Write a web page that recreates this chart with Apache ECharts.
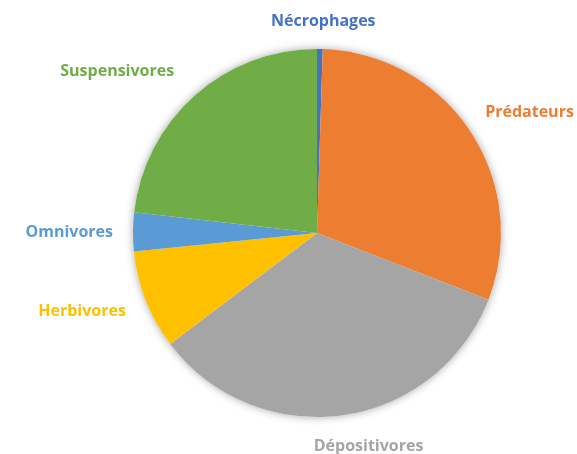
<!DOCTYPE html>
<html>
<head>
<meta charset="utf-8">
<script src="https://cdn.jsdelivr.net/npm/echarts@6/dist/echarts.min.js"></script>
<style>
  html, body { margin: 0; padding: 0; background: #fff; }
  #chart { width: 577px; height: 454px; }
</style>
</head>
<body>
<div id="chart"></div>
<script>
const categories = ['Nécrophages', 'Prédateurs', 'Dépositivores', 'Herbivores', 'Omnivores', 'Suspensivores']
const shares = [0.5, 30.4, 33.8, 8.7, 3.4, 23.2]
const colors = ['#4472C4', '#ED7D31', '#A5A5A5', '#FFC000', '#5B9BD5', '#70AD47']

const CX = 317
const CY = 233
const R = 184
const GAP = 15
// small hand nudges so labels sit where the original puts them
const labelNudge = [[3, -4], [12, 12], [22, 1], [-9, -10], [-5, 1], [-38, 20]]

const chart = echarts.init(document.getElementById('chart'), null, { renderer: 'canvas' })

// push each label out along its slice's mid direction until the box clears the pie
function placeLabel(params) {
  const p0 = params.labelLinePoints ? params.labelLinePoints[0] : null
  if (!p0) return {}
  let ux = p0[0] - CX
  let uy = p0[1] - CY
  const len = Math.sqrt(ux * ux + uy * uy) || 1
  ux /= len
  uy /= len
  const w = params.labelRect.width
  const h = params.labelRect.height
  const d = R + GAP + Math.abs(ux) * w / 2 + Math.abs(uy) * h / 2
  const n = labelNudge[params.dataIndex] || [0, 0]
  return {
    x: CX + ux * d + n[0],
    y: CY + uy * d + n[1],
    align: 'center',
    verticalAlign: 'middle'
  }
}

chart.setOption({
  animation: false,
  series: [
    {
      // soft shadow under the pie
      type: 'pie',
      silent: true,
      center: [CX, CY],
      radius: R,
      label: { show: false },
      labelLine: { show: false },
      itemStyle: { color: '#fff', shadowBlur: 8, shadowColor: 'rgba(0,0,0,0.35)' },
      data: [1],
      z: 1
    },
    {
      type: 'pie',
      center: [CX, CY],
      radius: R,
      startAngle: 90,
      clockwise: true,
      avoidLabelOverlap: false,
      itemStyle: { borderWidth: 0 },
      label: {
        show: true,
        position: 'outside',
        formatter: '{b}',
        fontFamily: 'Open Sans',
        fontWeight: 'bold',
        fontSize: 16
      },
      labelLine: { show: false, length: 10, length2: 0 },
      labelLayout: placeLabel,
      data: categories.map((name, i) => ({
        name,
        value: shares[i],
        itemStyle: { color: colors[i] },
        label: { color: colors[i] }
      })),
      z: 2
    }
  ]
})
</script>
</body>
</html>
